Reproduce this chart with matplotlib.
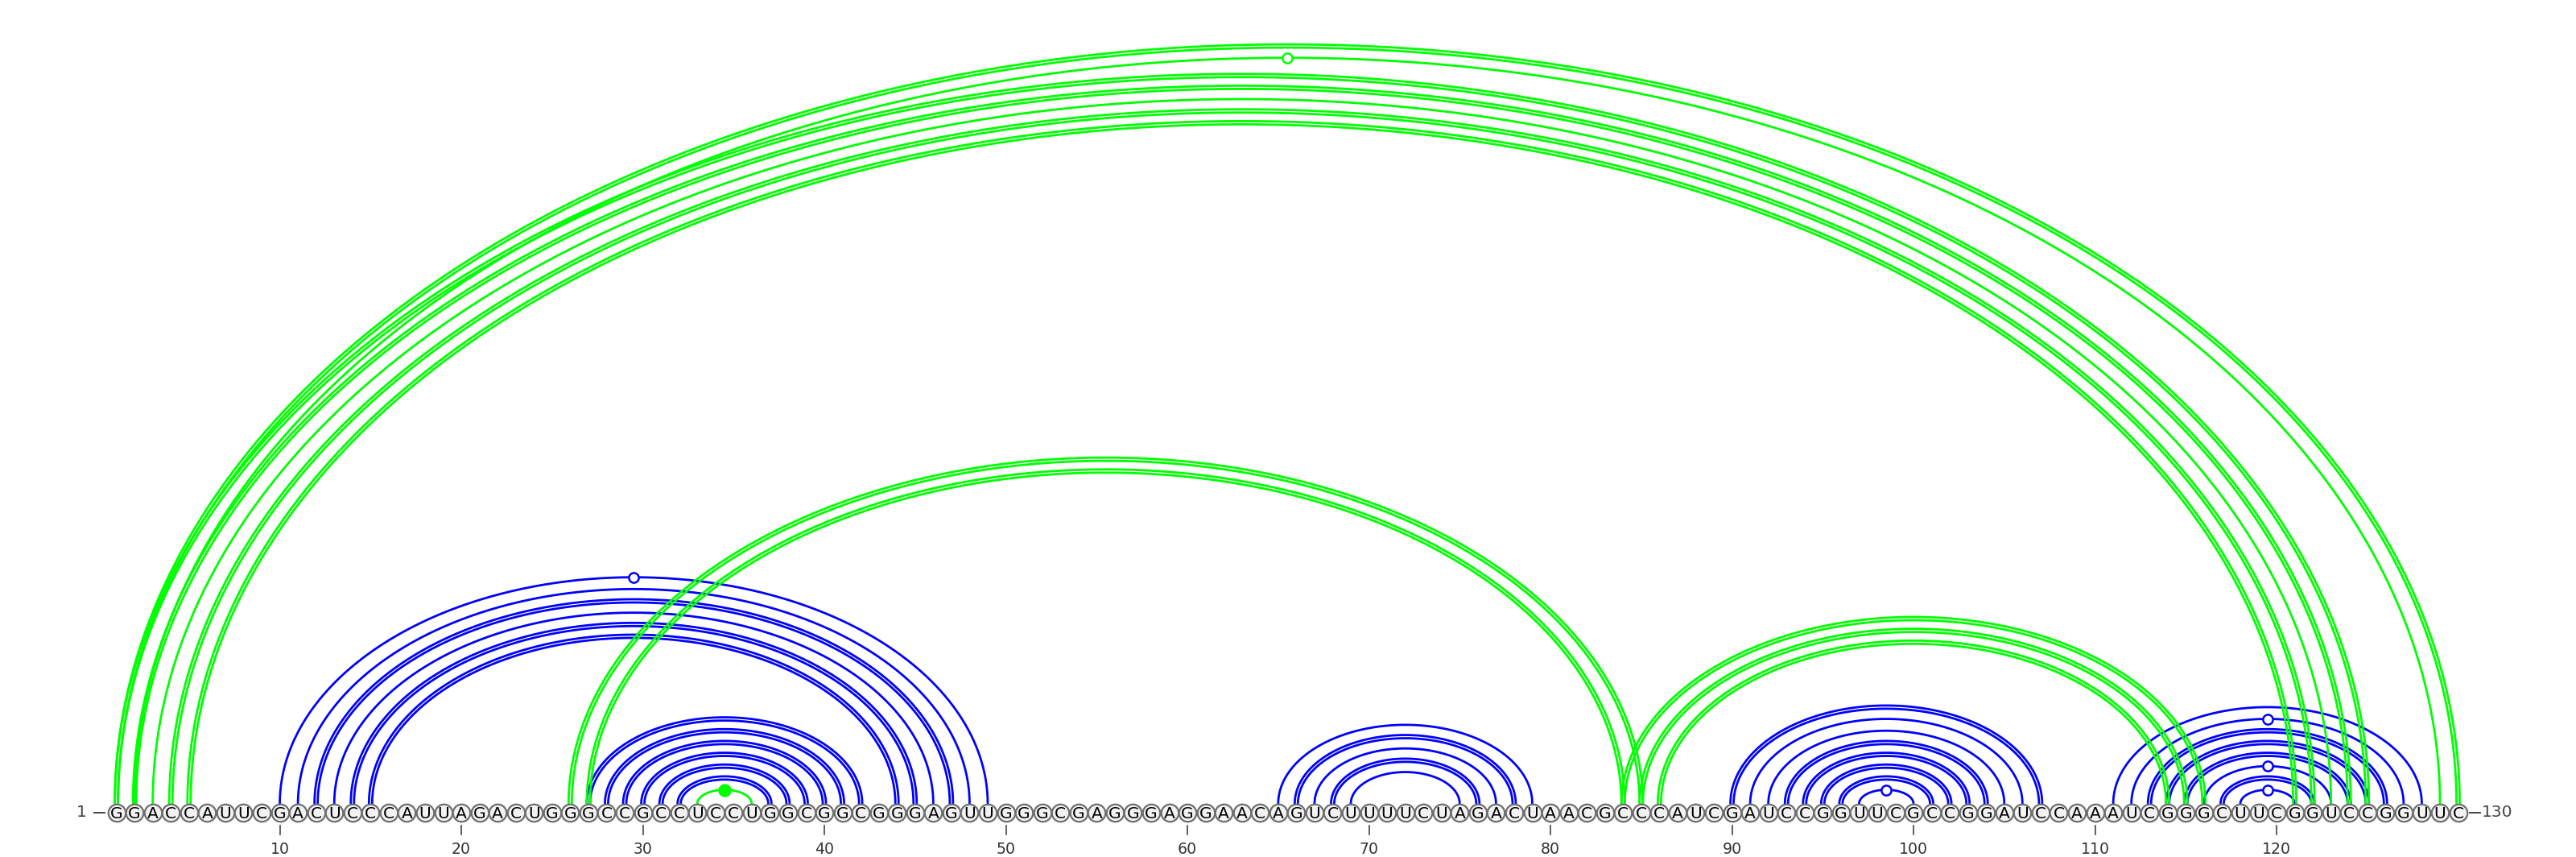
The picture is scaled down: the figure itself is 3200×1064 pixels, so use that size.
import numpy as np
import matplotlib.pyplot as plt

sequence = ("GGACCAUUCG" "ACUCCCAUUA" "GACUGGGCCG" "CCUCCUGGCG" "GCGGGAGUUG"
            "GGCGAGGGAG" "GAACAGUCUU" "UUCUAGACUA" "ACGCCCAUCG" "AUCCGGUUCG"
            "CCGGAUCCAA" "AUCGGGCUUC" "GGUCCGGUUC")

# blue structure: 5' end, 3' end, number of drawn lines
blue_i = [10, 11, 12, 13, 14, 15, 27, 28, 29, 30, 31, 32,
          65, 66, 67, 68, 69,
          90, 91, 92, 93, 94, 95, 96, 97,
          111, 112, 113, 114, 115, 116, 117, 118]
blue_j = [49, 48, 47, 46, 45, 44, 42, 41, 40, 39, 38, 37,
          79, 78, 77, 76, 75,
          107, 106, 105, 104, 103, 102, 101, 100,
          128, 127, 126, 125, 124, 123, 122, 121]
blue_n = [1, 1, 2, 1, 2, 2, 2, 2, 2, 2, 2, 2,
          1, 2, 1, 2, 1,
          2, 1, 1, 2, 2, 2, 2, 1,
          1, 1, 2, 2, 2, 1, 2, 1]

# green structure
green_i = [1, 2, 1, 2, 3, 4, 5, 26, 27, 84, 85, 86, 33]
green_j = [130, 129, 125, 124, 123, 122, 121, 85, 84, 116, 115, 114, 36]
green_n = [2, 1, 2, 2, 1, 2, 2, 2, 2, 2, 2, 2, 1]

tick_pos = list(range(10, 130, 10))

W, H = 3200, 1064
step = 22.55   # pixels per nucleotide
x_first = 144.6


def px2x(px):
    return 1 + (px - x_first) / step


fig = plt.figure(figsize=(16, 5.32), dpi=200)
ax = fig.add_axes([0, 0, 1, 1])
ax.set_xlim(px2x(0), px2x(W))
ax.set_ylim(0, H)
ax.axis('off')

y_mid = H - 1009
y_base = y_mid + 11
t = np.linspace(0, np.pi, 400)

canonical = {'GC', 'CG', 'AU', 'UA'}
wobble = {'GU', 'UG'}


def draw_arc(i, j, n, color):
    c = (i + j) / 2
    a = (j - i) / 2 * step
    offs = [0.0] if n == 1 else [-2.0, 2.0]
    for d in offs:
        ap = a + d
        h = 0.65 * ap - 4.5 + 0.35 * d
        ax.plot(c + ap / step * np.cos(t), y_base + h * np.sin(t),
                color=color, lw=1.0, solid_capstyle='butt', zorder=2)
    pair = sequence[i - 1] + sequence[j - 1]
    top = y_base + 0.65 * a - 4.5
    if pair in wobble:
        ax.plot(c, top, 'o', ms=4.4, mfc='white', mec=color, mew=0.9, zorder=5)
    elif pair not in canonical:
        ax.plot(c, top, 'o', ms=5.0, mfc=color, mec=color, mew=0.9, zorder=5)


for i, j, n in zip(blue_i, blue_j, blue_n):
    draw_arc(i, j, n, '#0000ff')
for i, j, n in zip(green_i, green_j, green_n):
    draw_arc(i, j, n, '#00ff00')

pos = np.arange(1, len(sequence) + 1)
ax.scatter(pos, np.full(len(pos), y_mid), s=60, marker='o',
           facecolor='#f2f2f2', edgecolor='#6e6e6e', linewidths=0.8, zorder=3)
for p, ch in zip(pos, sequence):
    ax.text(p, y_mid - 7.2, ch, ha='center', va='baseline',
            fontsize=7.3, color='black', zorder=4)

for k in tick_pos:
    ax.plot([k, k], [H - 1025, H - 1036], color='#444444', lw=0.6)
    ax.text(k, H - 1054, str(k), ha='center', va='center',
            fontsize=6.8, color='#333333')

ax.text(px2x(108), y_mid, '1', ha='right', va='center', fontsize=7.3, color='#444444')
ax.plot([px2x(117), px2x(130)], [y_mid, y_mid], color='#444444', lw=0.7)
ax.plot([px2x(3068), px2x(3081)], [y_mid, y_mid], color='#444444', lw=0.7)
ax.text(px2x(3083), y_mid, str(len(sequence)), ha='left', va='center',
        fontsize=7.3, color='#444444')

fig.savefig('out.png', dpi=200, facecolor='white')
